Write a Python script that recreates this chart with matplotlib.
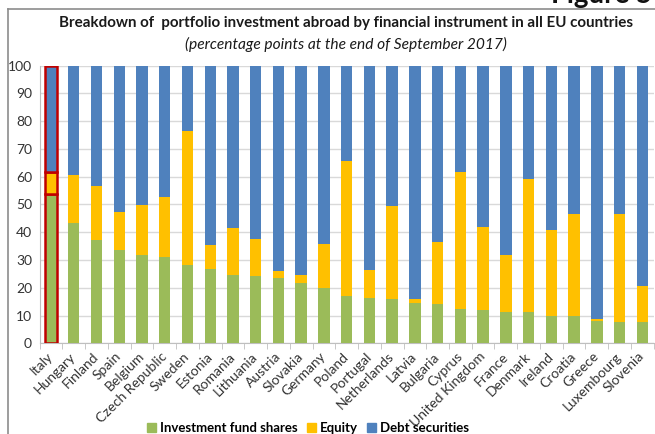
import numpy as np
import matplotlib
matplotlib.use("Agg")
import matplotlib.pyplot as plt
from matplotlib.lines import Line2D
from matplotlib.patches import Patch

plt.rcParams['font.family'] = ['Lato', 'DejaVu Sans']

countries = ["Italy", "Hungary", "Finland", "Spain", "Belgium", "Czech Republic", "Sweden",
             "Estonia", "Romania", "Lithuania", "Austria", "Slovakia", "Germany", "Poland",
             "Portugal", "Netherlands", "Latvia", "Bulgaria", "Cyprus", "United Kingdom",
             "France", "Denmark", "Ireland", "Croatia", "Greece", "Luxembourg", "Slovenia"]

# shares in percent; debt securities fill the rest up to 100
fund_shares = [53.8, 43.2, 37.1, 33.6, 31.8, 30.9, 28.2, 26.7, 24.6, 24.2, 23.4, 21.7, 19.9,
               16.9, 16.4, 16.0, 14.5, 14.2, 12.2, 11.9, 11.3, 11.2, 9.8, 9.8, 8.0, 7.7, 7.7]
equity = [7.9, 17.4, 19.4, 13.8, 18.0, 21.7, 48.4, 8.7, 16.9, 13.5, 2.6, 2.8, 15.9,
          48.6, 9.9, 33.5, 1.5, 22.1, 49.4, 29.8, 20.5, 47.9, 31.1, 36.8, 0.9, 38.9, 12.9]
debt = [100 - f - e for f, e in zip(fund_shares, equity)]

green = "#9BBB59"
yellow = "#FFC000"
blue = "#4F81BD"
grey = "#8C8C8C"

fig = plt.figure(figsize=(6.55, 4.34), dpi=100)
ax = fig.add_axes([0.0605, 0.209, 0.9375, 0.640])

x = np.arange(len(countries))
edge = ["#C00000"] + ["none"] * (len(countries) - 1)
lw = [1.8] + [0] * (len(countries) - 1)

ax.bar(x, fund_shares, width=0.5, color=green, edgecolor=edge, linewidth=lw, zorder=3)
ax.bar(x, equity, width=0.5, bottom=fund_shares, color=yellow, edgecolor=edge, linewidth=lw, zorder=3)
bottoms = [f + e for f, e in zip(fund_shares, equity)]
ax.bar(x, debt, width=0.5, bottom=bottoms, color=blue, edgecolor=edge, linewidth=lw, zorder=3)

ax.set_xlim(-0.5, len(countries) - 0.5)
ax.set_ylim(0, 100)
ax.set_yticks(range(0, 101, 10))
ax.yaxis.grid(True, color="#D9D9D9", linewidth=1, zorder=0)

ax.set_xticks(x)
ax.set_xticklabels(countries, rotation=45, ha="right", va="center", rotation_mode="anchor",
                   fontsize=10, color="#333333")
ax.set_xticks(np.arange(-0.5, len(countries), 1), minor=True)
ax.tick_params(axis="x", which="major", length=0, pad=8)
ax.tick_params(axis="x", which="minor", length=4, color="#BFBFBF", direction="out")
ax.tick_params(axis="y", length=0, labelsize=10, labelcolor="#333333", pad=5.5)

for side in ["top", "right"]:
    ax.spines[side].set_visible(False)
ax.spines["left"].set_color("#BFBFBF")
ax.spines["bottom"].set_color("#BFBFBF")

fig.text(346 / 655, 1 - 22.5 / 434, "Breakdown of  portfolio investment abroad by financial instrument in all EU countries",
         ha="center", va="center", fontsize=10.9, fontweight="bold", color="#1a1a1a")
fig.text(346 / 655, 1 - 44 / 434, "(percentage points at the end of September 2017)",
         ha="center", va="center", fontsize=11.2, fontstyle="italic", color="#1a1a1a")

# page header above the frame, mostly cut off
fig.text(652 / 655, 1 - 3 / 434, "Figure 5", ha="right", va="baseline",
         fontsize=20, fontweight="bold", color="#111111")

# frame around the chart
fig.add_artist(Line2D([7.5 / 655, 7.5 / 655], [0, 1 - 8.5 / 434], transform=fig.transFigure,
                      color=grey, linewidth=1.2))
fig.add_artist(Line2D([7.5 / 655, 1], [1 - 8.5 / 434, 1 - 8.5 / 434], transform=fig.transFigure,
                      color=grey, linewidth=1.2))

handles = [Patch(color=green, label="Investment fund shares"),
           Patch(color=yellow, label="Equity"),
           Patch(color=blue, label="Debt securities")]
fig.legend(handles=handles, loc="center", bbox_to_anchor=(308 / 655, 1 - 428 / 434), ncol=3,
           frameon=False, handlelength=0.7, handleheight=0.7, handletextpad=0.3,
           columnspacing=0.7, prop={"weight": "bold", "size": 9.5})

fig.savefig("out.png", dpi=100)
